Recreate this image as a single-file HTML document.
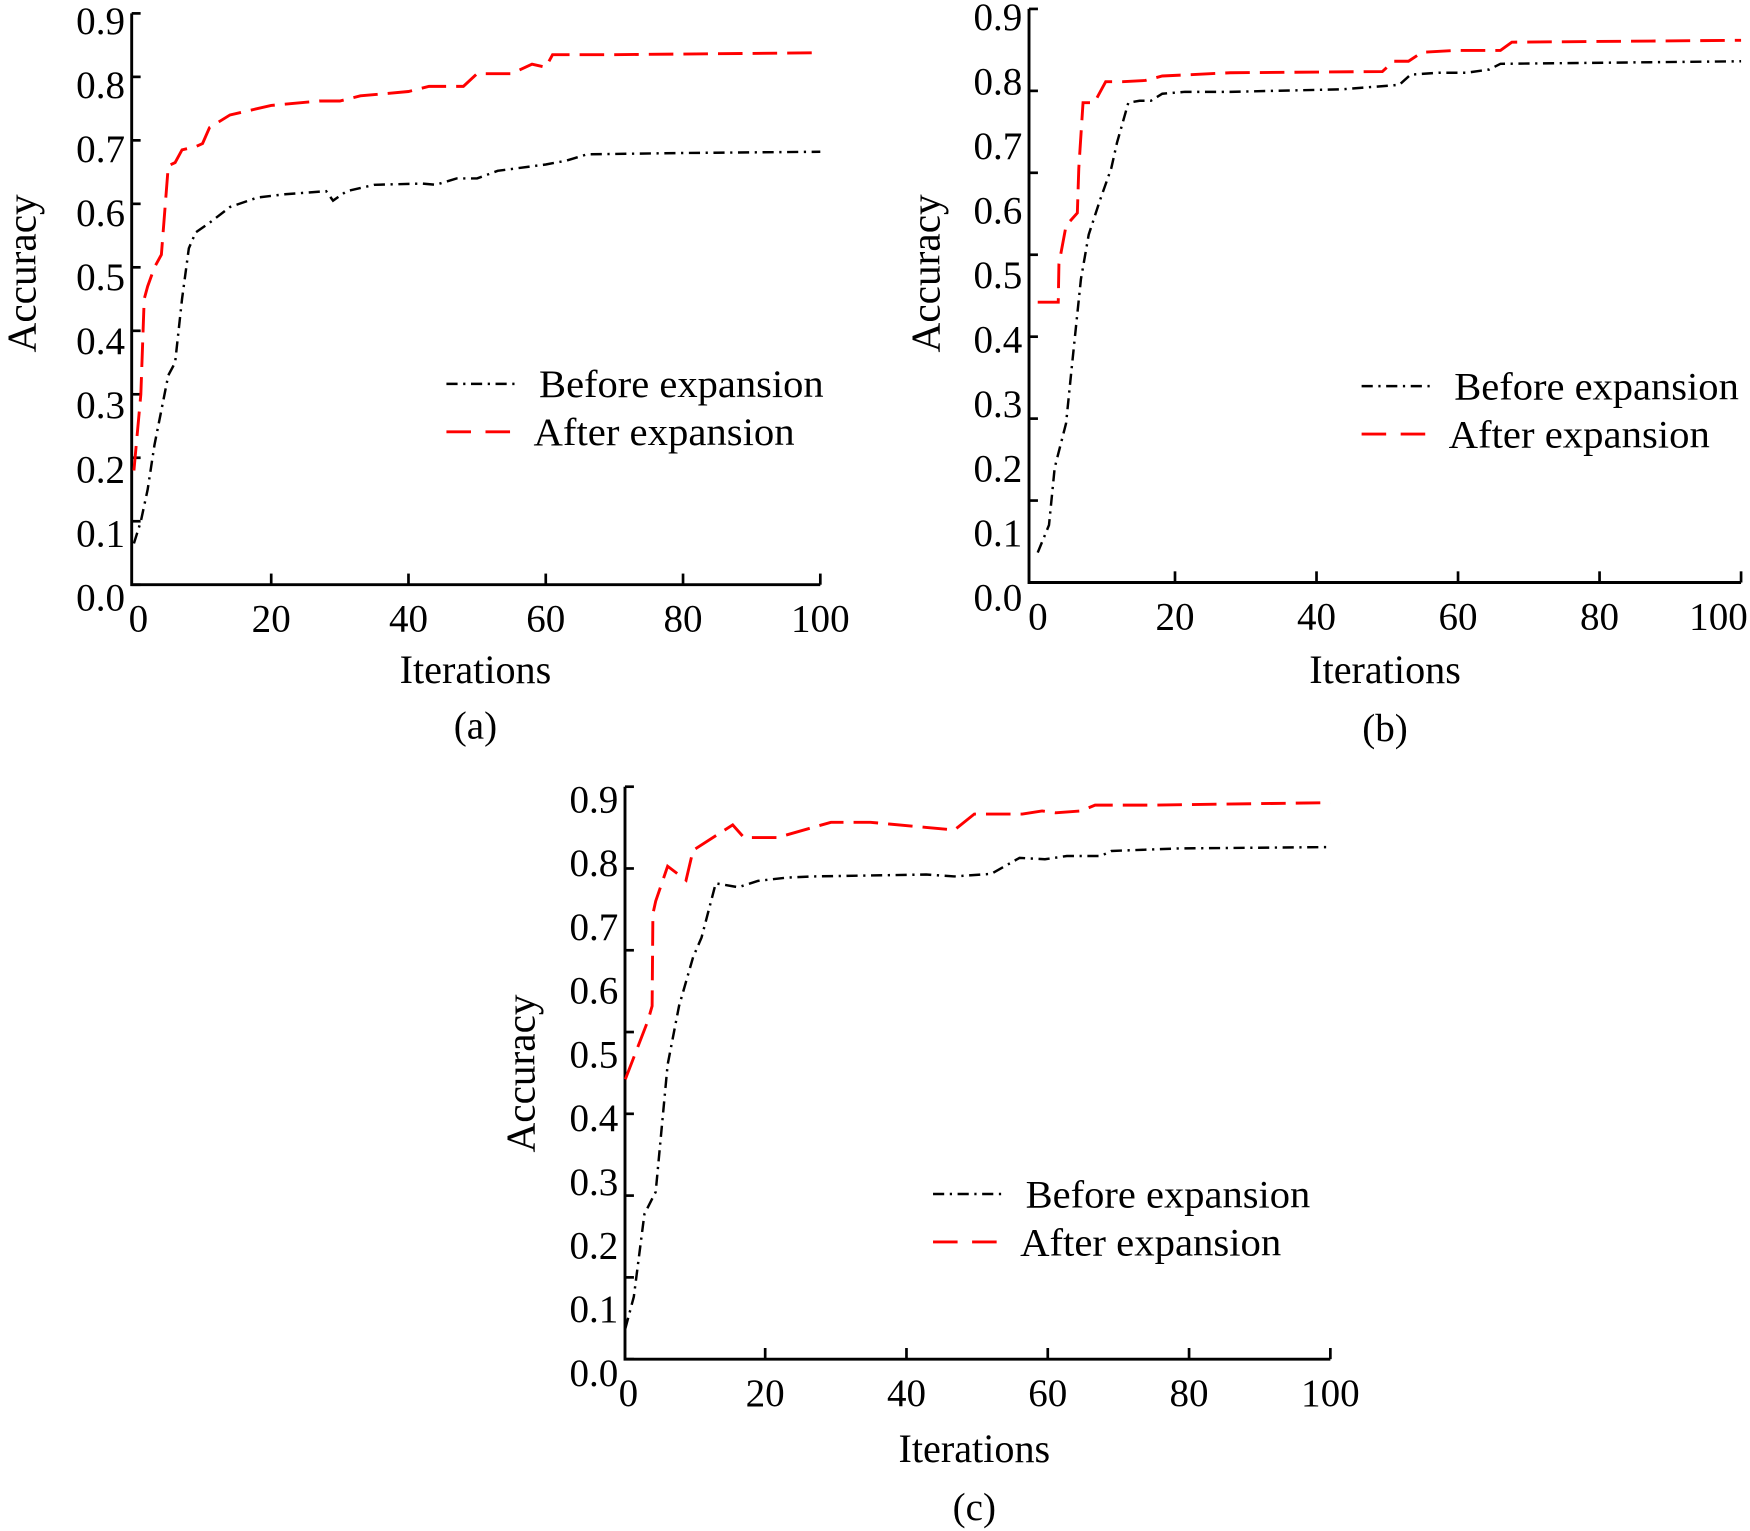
<!DOCTYPE html>
<html><head><meta charset="utf-8"><style>
html,body{margin:0;padding:0;background:#fff;}
svg{display:block;}
text{font-family:"Liberation Serif",serif;fill:#000;}
</style></head><body>
<svg id="chart" width="1750" height="1531" viewBox="0 0 1568 1372" preserveAspectRatio="none" xmlns="http://www.w3.org/2000/svg"></svg>
<script>
// ---- data ----
const xTicks = [0, 20, 40, 60, 80, 100];
const yTickLabels = ["0.0","0.1","0.2","0.3","0.4","0.5","0.6","0.7","0.8","0.9"];
const seriesNames = ["Before expansion", "After expansion"];

const aBeforeX = [0,1,2,3,5,6,7,8,9,11,14,18,22,28,29,31,35,42,44,47,50,53,60,63,66,80,100];
const aBeforeY = [0.065,0.1,0.15,0.22,0.33,0.35,0.45,0.53,0.555,0.57,0.595,0.61,0.615,0.62,0.605,0.62,0.63,0.632,0.63,0.64,0.64,0.652,0.662,0.668,0.678,0.68,0.682];
const aAfterX = [0,1,1.5,2,3,4,5,6,7,9,10,11,14,20,27,30,33,40,43,48,50,55,58,60,61,70,100];
const aAfterY = [0.18,0.3,0.45,0.47,0.5,0.52,0.66,0.665,0.685,0.69,0.695,0.72,0.74,0.755,0.762,0.762,0.77,0.777,0.785,0.785,0.805,0.805,0.82,0.815,0.835,0.835,0.838];

const bBeforeX = [0.6,2.2,3,4.6,5.4,6.7,7.8,9.4,11,11.8,13.4,15,16.6,18.2,21.4,27.8,43.7,51.7,53.3,57.3,61.2,64.4,66,100];
const bBeforeY = [0.047,0.09,0.18,0.25,0.336,0.476,0.546,0.6,0.65,0.69,0.753,0.756,0.756,0.767,0.77,0.77,0.774,0.781,0.797,0.8,0.8,0.805,0.814,0.818];
const bAfterX = [0.6,3.5,3.6,4.6,6.2,6.4,7,8.6,10.2,12.6,15.8,18.2,27.8,49.3,50.9,53,54.9,59.6,66,67.6,100];
const bAfterY = [0.44,0.44,0.5,0.56,0.58,0.65,0.753,0.753,0.786,0.786,0.788,0.795,0.8,0.802,0.818,0.818,0.832,0.835,0.835,0.848,0.851];

const cBeforeX = [0.2,1.4,2.9,4.5,6.2,7.8,9.8,11,13,16.2,19,23,26.9,42.8,46.8,52,56,59.6,62.7,67.5,69,78.7,100];
const cBeforeY = [0.048,0.098,0.228,0.263,0.463,0.555,0.632,0.663,0.748,0.742,0.752,0.757,0.759,0.762,0.759,0.763,0.788,0.786,0.791,0.791,0.799,0.803,0.805];
const cAfterX = [0.2,3.4,4,4.1,4.5,6.2,8.8,9.8,15.4,17,21.7,29.3,34.9,42.8,46.8,49.6,56.4,59.2,61.1,64.7,66.7,74.7,100];
const cAfterY = [0.44,0.532,0.555,0.70,0.72,0.775,0.753,0.80,0.84,0.82,0.82,0.844,0.844,0.836,0.832,0.857,0.857,0.862,0.859,0.862,0.871,0.871,0.875];

// ---- layout ----
const panels = [
  {id:"a", ax:118, x0:120, x100:735, yAxisTop:12, yBase:524, yScale:568.9, labBase:535, labScale:574, nTickInt:9,
   bx:aBeforeX, by:aBeforeY, rx:aAfterX, ry:aAfterY, legX:400, legY:344, xlabX:426, xlabY:600, capY:650, ylabX:20, ylabY:245},
  {id:"b", ax:922, x0:926, x100:1560, yAxisTop:8, yBase:522, yScale:571, labBase:535, labScale:577.8, nTickInt:7,
   bx:bBeforeX, by:bBeforeY, rx:bAfterX, ry:bAfterY, legX:1220, legY:346, xlabX:1241, xlabY:600, capY:652, ylabX:830, ylabY:245},
  {id:"c", ax:560, x0:559, x100:1192, yAxisTop:705, yBase:1218, yScale:570, labBase:1230, labScale:571, nTickInt:7,
   bx:cBeforeX, by:cBeforeY, rx:cAfterX, ry:cAfterY, legX:836, legY:1070, xlabX:873, xlabY:1298, capY:1350, ylabX:467, ylabY:962}
];

const NS = "http://www.w3.org/2000/svg";
const svg = document.getElementById("chart");
function mk(tag, attrs, parent){ const e=document.createElementNS(NS,tag); for(const k in attrs) e.setAttribute(k,attrs[k]); (parent||svg).appendChild(e); return e; }

panels.forEach(p=>{
  const g = mk("g",{});
  
  
  const sx = v => p.x0 + (p.x100 - p.x0) * v / 100;
  const sy = v => p.yBase - p.yScale * v;

  const axes = mk("path",{d:`M${p.ax},${p.yAxisTop} L${p.ax},${p.yBase} L${p.x100},${p.yBase}`, fill:"none", stroke:"#000","stroke-width":2.6}, g);
  
  

  xTicks.forEach(t=>{
    const x = sx(t);
    if(t>0){
      const tk = mk("line",{x1:x,y1:p.yBase,x2:x,y2:p.yBase-10,stroke:"#000","stroke-width":2.4}, g);
      
      
    }
    let lx = x + (t===0?4:0), anchor = "middle";
    if(lx + 38 > 1567){ lx = 1566; anchor = "end"; }
    const lb = mk("text",{x:lx,y:p.yBase+42,"font-size":35,"text-anchor":anchor}, g);
    lb.textContent = t;
    
    
  });
  for(let i=0;i<=p.nTickInt;i++){
    const y = p.yBase - (p.yBase - p.yAxisTop) * i / p.nTickInt;
    const tk = mk("line",{x1:p.ax,y1:y,x2:p.ax+8,y2:y,stroke:"#000","stroke-width":2.4}, g);
    
    
  }
  yTickLabels.forEach((s,i)=>{
    const lb = mk("text",{x:p.ax-6,y:p.labBase - p.labScale*i/10 + 12,"font-size":35,"text-anchor":"end"}, g);
    lb.textContent = s;
    
    
  });

  const xt = mk("text",{x:p.xlabX,y:p.xlabY+12,"font-size":36,"text-anchor":"middle"}, g);
  xt.textContent = "Iterations";
  
  
  const yt = mk("text",{x:0,y:0,"font-size":37,"text-anchor":"middle",transform:`translate(${p.ylabX+12},${p.ylabY}) rotate(-90)`}, g);
  yt.textContent = "Accuracy";
  
  
  const cap = mk("text",{x:p.xlabX,y:p.capY+12,"font-size":35,"text-anchor":"middle"}, g);
  cap.textContent = "(" + p.id + ")";
  
  

  const line = (xs, ys) => xs.map((x,i)=>(i?"L":"M")+sx(x).toFixed(1)+","+sy(ys[i]).toFixed(1)).join(" ");
  const bl = mk("path",{d:line(p.bx,p.by),fill:"none",stroke:"#000","stroke-width":2.2,"stroke-dasharray":"10 5 2 5"}, g);
  
  
  const rl = mk("path",{d:line(p.rx,p.ry),fill:"none",stroke:"#f00","stroke-width":2.6,"stroke-dasharray":"22 9"}, g);
  
  

  const l1 = mk("line",{x1:p.legX,y1:p.legY,x2:p.legX+62,y2:p.legY,stroke:"#000","stroke-width":2.2,"stroke-dasharray":"10 5 2 5"}, g);
  
  
  const t1 = mk("text",{x:p.legX+83,y:p.legY+12,"font-size":35,textLength:255,lengthAdjust:"spacingAndGlyphs"}, g);
  t1.textContent = seriesNames[0];
  
  
  const l2 = mk("line",{x1:p.legX,y1:p.legY+43,x2:p.legX+58,y2:p.legY+43,stroke:"#f00","stroke-width":2.6,"stroke-dasharray":"22 13"}, g);
  
  
  const t2 = mk("text",{x:p.legX+78,y:p.legY+55,"font-size":35,textLength:234,lengthAdjust:"spacingAndGlyphs"}, g);
  t2.textContent = seriesNames[1];
  
  
});
</script>
</body></html>
